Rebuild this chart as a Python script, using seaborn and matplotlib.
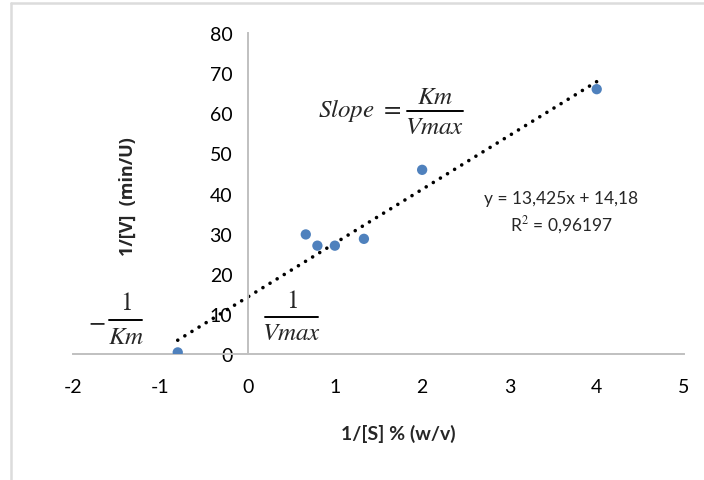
import numpy as np
import pandas as pd
import matplotlib
matplotlib.use("Agg")
import matplotlib.pyplot as plt
from matplotlib.lines import Line2D
import seaborn as sns

# ---- data ----
inv_s = [-0.8, 0.667, 0.8, 1.0, 1.333, 2.0, 4.0]
inv_v = [0.4, 29.8, 27.0, 27.0, 28.7, 45.9, 66.0]
slope = 13.425
intercept = 14.18
r2_text = "R$^{2}$ = 0,96197"
eq_text = "y = 13,425x + 14,18"
x_ticks = [-2, -1, 0, 1, 2, 3, 4, 5]
y_ticks = [0, 10, 20, 30, 40, 50, 60, 70, 80]
x_label = "1/[S] % (w/v)"
y_label = "1/[V]  (min/U)"

sns.set_theme(style="white")
plt.rcParams['font.family'] = ['Lato', 'DejaVu Sans']
plt.rcParams['axes.unicode_minus'] = False
plt.rcParams['mathtext.fontset'] = 'stix'

W, H = 704, 481
fig = plt.figure(figsize=(W/100, H/100), dpi=100)
ax = fig.add_axes([73/W, 1-355/H, (684-73)/W, (355-34)/H])

df = pd.DataFrame({"x": inv_s, "y": inv_v})
xs = [min(inv_s), max(inv_s)]
trend = pd.DataFrame({"x": xs, "y": [slope*v + intercept for v in xs]})
sns.lineplot(data=trend, x="x", y="y", ax=ax, color="black", lw=2.6,
             linestyle=(0, (0.01, 2.3)), dash_capstyle="round", zorder=2)
sns.scatterplot(data=df, x="x", y="y", ax=ax, color="#4F81BD", s=55,
                edgecolor="none", zorder=3)

ax.set_xlim(-2, 5)
ax.set_ylim(0, 80)
ax.set_xticks(x_ticks)
ax.set_yticks(y_ticks)
ax.set_xlabel("")
ax.set_ylabel("")
ax.set_facecolor("none")
for s in ["top", "right"]:
    ax.spines[s].set_visible(False)
ax.spines["left"].set_position(("data", 0))
ax.spines["bottom"].set_position(("data", 0))
for s in ["left", "bottom"]:
    ax.spines[s].set_color("#c0c0c0")
    ax.spines[s].set_linewidth(1.4)
ax.tick_params(axis="both", which="both", direction="out", length=5, width=1.4,
               color="#c0c0c0", labelsize=14, labelcolor="black")
ax.tick_params(axis="x", pad=12)
ax.tick_params(axis="y", pad=6)
ax.grid(False)

# axis titles
ax.text(-1.37, 39.5, y_label, rotation=90, ha="center", va="center",
        fontsize=13, fontweight="bold", family=["Open Sans", "DejaVu Sans"])
fig.text(398/W, 1-434/H, x_label, ha="center", va="center",
         fontsize=14, fontweight="bold")

# trendline label
ax.text(3.59, 39.0, eq_text, ha="center", va="center", fontsize=12.5)
ax.text(3.59, 32.4, r2_text, ha="center", va="center", fontsize=12.5)

# math annotations (fractions built from pieces, pixel positions in figure)
def ftext(px, py, s, **kw):
    fig.text(px/W, 1-py/H, s, fontsize=18, **kw)

def fbar(x0, x1, py):
    fig.add_artist(Line2D([x0/W, x1/W], [1-py/H, 1-py/H], transform=fig.transFigure,
                          color="black", lw=1.4))

# Slope = Km / Vmax
ftext(401, 111, r"$Slope\ =$", ha="right", va="center")
fbar(407, 463, 112)
ftext(435, 97, r"$Km$", ha="center", va="center")
ftext(435, 127, r"$Vmax$", ha="center", va="center")

# - 1 / Km
ftext(97, 321, r"$-$", ha="center", va="center")
fbar(109, 142, 321)
ftext(126, 303, r"$1$", ha="center", va="center")
ftext(126, 336, r"$Km$", ha="center", va="center")

# 1 / Vmax
fbar(265, 318, 318)
ftext(292, 300, r"$1$", ha="center", va="center")
ftext(292, 332, r"$Vmax$", ha="center", va="center")

# outer frame of the screenshot
fig.add_artist(Line2D([11/W, 11/W], [0, 1-4/H], transform=fig.transFigure,
                      color="#dcdcdc", lw=1.8))
fig.add_artist(Line2D([11/W, 1], [1-4/H, 1-4/H], transform=fig.transFigure,
                      color="#dcdcdc", lw=1.8))

fig.savefig("out.png", dpi=100)
